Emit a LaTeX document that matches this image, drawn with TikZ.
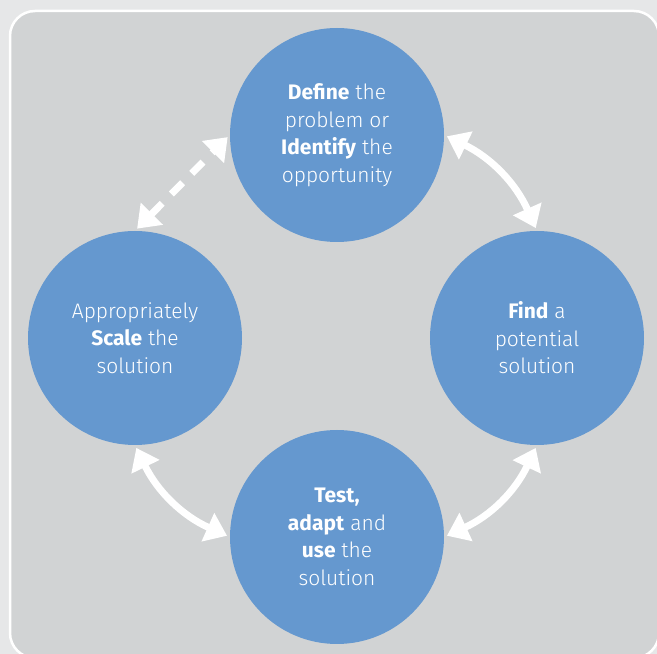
\documentclass[tikz,border=0pt]{standalone}
\usepackage{fontspec}
\setmainfont{Fira Sans}[UprightFont={* Light},BoldFont={* Bold}]
\usetikzlibrary{arrows.meta}
\definecolor{pageGray}{RGB}{230,231,232}
\definecolor{panelGray}{RGB}{209,211,212}
\definecolor{circleBlue}{RGB}{101,152,207}

\begin{document}
\begin{tikzpicture}
[x=1pt,y=1pt,
  nodeDecorate/.style={shape=circle,minimum size=214pt,inner sep=0pt,
    fill=circleBlue,text=white,align=center,
    font=\fontsize{21}{27.5}\selectfont},%
  arrowDecorate/.style={{Triangle[length=21pt,width=30pt]}-{Triangle[length=21pt,width=30pt]},
    line width=7pt,white,shorten >=3pt,shorten <=3pt}]
%% background and panel
\useasboundingbox (0,0) rectangle (657,654);
\fill[pageGray] (0,0) rectangle (657,654);
\begin{scope}
  \clip (0,0) rectangle (657,654);
  \draw[white,line width=2.5pt,fill=panelGray,rounded corners=25pt]
    (10,-4) rectangle (659,643);
\end{scope}
%% nodes or vertices
\foreach \nodename/\x/\y/\txt in {
  define/337/519/{\textbf{Define} the\\problem or\\\textbf{Identify} the\\opportunity},
  find/537/316/{\textbf{Find} a\\potential\\solution},
  test/337/117/{\textbf{Test,}\\\textbf{adapt} and\\\textbf{use} the\\solution},
  scale/135/316/{Appropriately\\\textbf{Scale} the\\solution}}
{
  \node (\nodename) at (\x,\y) [nodeDecorate] {\txt};
}
%% edges or lines
\path
\foreach \startnode/\endnode/\startang/\endang in {
  define/find/0/90, find/test/-90/0, test/scale/180/-90}
{
  (\startnode.\startang) edge[arrowDecorate,bend left=20] (\endnode.\endang)
};
\path (scale.90) edge[arrowDecorate,dash pattern=on 16pt off 13pt] (define.180);
\end{tikzpicture}
\end{document}
